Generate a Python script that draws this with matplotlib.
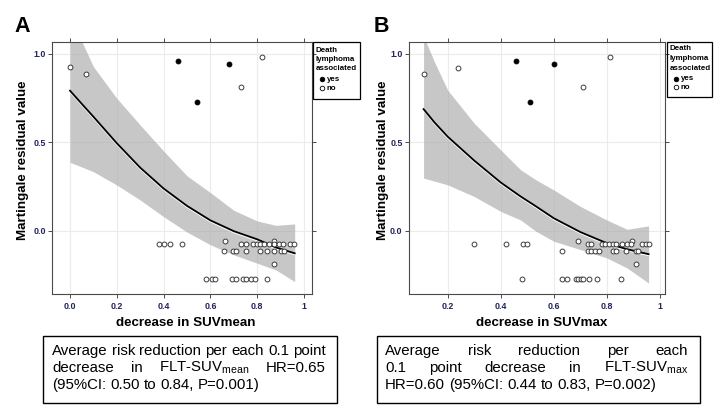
import matplotlib
matplotlib.use("Agg")
import matplotlib.pyplot as plt
import matplotlib.transforms as mtransforms
from matplotlib.patches import Rectangle
from matplotlib.lines import Line2D

plt.rcParams['font.family'] = ['Liberation Sans', 'DejaVu Sans']
plt.rcParams['mathtext.fontset'] = 'custom'
plt.rcParams['mathtext.rm'] = 'Liberation Sans'
plt.rcParams['mathtext.it'] = 'Liberation Sans:italic'
plt.rcParams['mathtext.bf'] = 'Liberation Sans:bold'

# ---------------- data : panel A (decrease in SUVmean) ----------------
a_yes_x = [0.460, 0.541, 0.681]
a_yes_y = [0.960, 0.726, 0.943]
a_no_x = [0.000, 0.067, 0.732, 0.822,
          0.661, 0.872,
          0.381, 0.401, 0.429, 0.479, 0.732, 0.752, 0.782, 0.797, 0.810, 0.828, 0.851, 0.871, 0.891, 0.910, 0.939, 0.956,
          0.660, 0.697, 0.708, 0.751, 0.811, 0.840, 0.870, 0.903, 0.916,
          0.871,
          0.580, 0.608, 0.619, 0.694, 0.708, 0.741, 0.754, 0.772, 0.791, 0.840]
a_no_y = [0.923, 0.883, 0.811, 0.981,
          -0.057, -0.057,
          -0.077, -0.077, -0.077, -0.077, -0.077, -0.077, -0.077, -0.077, -0.077, -0.077, -0.077, -0.077, -0.077, -0.077, -0.077, -0.077,
          -0.117, -0.117, -0.117, -0.117, -0.117, -0.117, -0.117, -0.117, -0.117,
          -0.187,
          -0.274, -0.274, -0.274, -0.274, -0.274, -0.274, -0.274, -0.274, -0.274, -0.274]
a_curve_x = [0.00, 0.05, 0.10, 0.20, 0.30, 0.40, 0.50, 0.60, 0.70, 0.80, 0.88, 0.96]
a_fit = [0.791, 0.717, 0.644, 0.494, 0.356, 0.238, 0.140, 0.058, -0.003, -0.049, -0.095, -0.128]
a_upper = [1.22, 1.07, 0.927, 0.748, 0.597, 0.450, 0.310, 0.215, 0.115, 0.055, 0.030, 0.038]
a_lower = [0.386, 0.360, 0.333, 0.258, 0.173, 0.079, -0.008, -0.080, -0.137, -0.184, -0.222, -0.288]
a_ticks = [0.0, 0.2, 0.4, 0.6, 0.8, 1.0]
a_ticklabels = ["0.0", "0.2", "0.4", "0.6", "0.8", "1"]

# ---------------- data : panel B (decrease in SUVmax) ----------------
b_yes_x = [0.458, 0.510, 0.600]
b_yes_y = [0.959, 0.727, 0.943]
b_no_x = [0.109, 0.238, 0.711, 0.811,
          0.690, 0.893,
          0.299, 0.419, 0.485, 0.498, 0.729, 0.740, 0.780, 0.794, 0.809, 0.823, 0.836, 0.858, 0.875, 0.889, 0.933, 0.946, 0.960,
          0.629, 0.728, 0.741, 0.754, 0.769, 0.822, 0.835, 0.871, 0.911, 0.918,
          0.910,
          0.480, 0.629, 0.650, 0.683, 0.692, 0.702, 0.711, 0.731, 0.762, 0.852]
b_no_y = [0.883, 0.922, 0.811, 0.980,
          -0.057, -0.057,
          -0.077, -0.077, -0.077, -0.077, -0.077, -0.077, -0.077, -0.077, -0.077, -0.077, -0.077, -0.077, -0.077, -0.077, -0.077, -0.077, -0.077,
          -0.117, -0.117, -0.117, -0.117, -0.117, -0.117, -0.117, -0.117, -0.117, -0.117,
          -0.187,
          -0.274, -0.274, -0.274, -0.274, -0.274, -0.274, -0.274, -0.274, -0.274, -0.274]
b_curve_x = [0.109, 0.15, 0.20, 0.30, 0.40, 0.475, 0.533, 0.60, 0.70, 0.80, 0.876, 0.957]
b_fit = [0.687, 0.612, 0.531, 0.396, 0.272, 0.193, 0.137, 0.070, -0.008, -0.071, -0.105, -0.133]
b_upper = [1.10, 0.954, 0.794, 0.607, 0.456, 0.344, 0.287, 0.230, 0.137, 0.060, 0.008, 0.027]
b_lower = [0.297, 0.280, 0.259, 0.193, 0.109, 0.060, -0.004, -0.060, -0.107, -0.154, -0.211, -0.296]
b_ticks = [0.2, 0.4, 0.6, 0.8, 1.0]
b_ticklabels = ["0.2", "0.4", "0.6", "0.8", "1"]

y_ticks = [0.0, 0.5, 1.0]
y_ticklabels = ["0.0", "0.5", "1.0"]

W, H = 714, 411
fig = plt.figure(figsize=(W / 100, H / 100), dpi=100)
fig.patch.set_facecolor('white')
# pixel (top-left origin) transform
T = mtransforms.Affine2D().scale(1 / W, -1 / H).translate(0, 1) + fig.transFigure

TICKCOL = '#23235e'


def make_panel(rect_px, xlim, ticks, ticklabels, curve_x, fit, upper, lower,
               no_x, no_y, yes_x, yes_y, xlabel, ylab_x, xlab_x):
    l, t, r, b = rect_px
    ax = fig.add_axes([l / W, 1 - b / H, (r - l) / W, (b - t) / H])
    ax.set_xlim(*xlim)
    ax.set_ylim(-0.358, 1.068)
    ax.set_xticks(ticks)
    ax.set_xticklabels(ticklabels)
    ax.set_yticks(y_ticks)
    ax.set_yticklabels(y_ticklabels)
    ax.grid(True, color='#ebebeb', lw=0.8)
    ax.set_axisbelow(True)
    for s in ax.spines.values():
        s.set_color('#4a4a4a')
        s.set_linewidth(0.8)
    ax.tick_params(direction='out', top=True, right=True, length=3.2, width=0.7,
                   color='#4a4a4a', labelsize=6.4, labelcolor=TICKCOL, pad=2.6)
    ax.tick_params(axis='y', pad=1.2)
    for lb in ax.get_xticklabels() + ax.get_yticklabels():
        lb.set_fontweight('bold')
    ax.fill_between(curve_x, lower, upper, color='#a6a6a6', alpha=0.62, lw=0, zorder=2)
    off = mtransforms.offset_copy(ax.transData, fig=fig, x=0, y=-1.3, units='dots')
    ax.plot(curve_x, fit, color='white', lw=1.0, transform=off, zorder=3)
    ax.plot(curve_x, fit, color='black', lw=1.3, zorder=4)
    ax.plot(no_x, no_y, 'o', ms=3.5, mfc='white', mec='#303030', mew=0.65, ls='none', zorder=5)
    ax.plot(yes_x, yes_y, 'o', ms=3.5, mfc='black', mec='black', mew=0.65, ls='none', zorder=5)
    ax.set_ylabel('Martingale residual value', fontsize=9.6, fontweight='bold')
    ax.yaxis.set_label_coords(ylab_x, 0.53)
    ax.set_xlabel(xlabel, fontsize=9.6, fontweight='bold')
    ax.xaxis.set_label_coords(xlab_x, -0.115)
    ax.xaxis.label.set_va('center')
    return ax


axA = make_panel((52, 41.7, 312, 294), (-0.077, 1.034), a_ticks, a_ticklabels,
                 a_curve_x, a_fit, a_upper, a_lower, a_no_x, a_no_y, a_yes_x, a_yes_y,
                 'decrease in SUVmean', -0.088, 0.515)
axB = make_panel((408.7, 41.7, 665.3, 294), (0.053, 1.020), b_ticks, b_ticklabels,
                 b_curve_x, b_fit, b_upper, b_lower, b_no_x, b_no_y, b_yes_x, b_yes_y,
                 'decrease in SUVmax', -0.076, 0.52)

# panel letters
fig.text(14, 32, 'A', transform=T, fontsize=15.5, fontweight='bold', va='baseline', ha='left')
fig.text(374, 32, 'B', transform=T, fontsize=15.5, fontweight='bold', va='baseline', ha='left')


# legends
def legend(x0, x1, y0, y1, tx, mx, lx, ys):
    fig.add_artist(Rectangle((x0, y0), x1 - x0, y1 - y0, transform=T, fill=False,
                             lw=0.9, ec='black'))
    for txt, yy in zip(['Death', 'lymphoma', 'associated'], ys[:3]):
        fig.text(tx, yy, txt, transform=T, fontsize=5.7, fontweight='bold', va='center', ha='left')
    for fc, txt, yy in zip(['black', 'white'], ['yes', 'no'], ys[3:]):
        fig.add_artist(Line2D([mx], [yy], transform=T, marker='o', ms=3.3, mfc=fc,
                              mec='black', mew=0.6, ls='none'))
        fig.text(lx, yy, txt, transform=T, fontsize=5.7, fontweight='bold', va='center', ha='left')


legend(312.7, 359.5, 41.7, 99, 315.5, 322, 326.5, [50, 59.5, 69, 79.3, 88.3])
legend(667, 712, 41.7, 97, 670, 675.5, 680.5, [49, 58.8, 68.3, 79, 87.5])

# annotation boxes with justified text
renderer = fig.canvas.get_renderer()
FS = 10.8


def justified(words, left, right, y, justify=True):
    texts = [fig.text(0, y, w, transform=T, fontsize=FS, va='center', ha='left') for w in words]
    widths = [t.get_window_extent(renderer).width for t in texts]
    if justify and len(words) > 1:
        gap = (right - left - sum(widths)) / (len(words) - 1)
    else:
        sp = fig.text(0, 0, 'a a', fontsize=FS)
        sp2 = fig.text(0, 0, 'aa', fontsize=FS)
        gap = sp.get_window_extent(renderer).width - sp2.get_window_extent(renderer).width
        sp.remove()
        sp2.remove()
    x = left
    for t, w in zip(texts, widths):
        t.set_x(x)
        x += w + gap


fig.add_artist(Rectangle((42.7, 336), 336.8 - 42.7, 403 - 336, transform=T, fill=False, lw=1.0, ec='black'))
justified(['Average', 'risk', 'reduction', 'per', 'each', '0.1', 'point'], 52, 326, 351)
justified(['decrease', 'in', r'FLT-SUV$_{\mathrm{mean}}$', 'HR=0.65'], 52, 326, 368)
justified(['(95%CI:', '0.50', 'to', '0.84,', 'P=0.001)'], 52, 326, 385, justify=False)

fig.add_artist(Rectangle((377, 336), 700 - 377, 403 - 336, transform=T, fill=False, lw=1.0, ec='black'))
justified(['Average', 'risk', 'reduction', 'per', 'each'], 385, 688, 351)
justified(['0.1', 'point', 'decrease', 'in', r'FLT-SUV$_{\mathrm{max}}$'], 385, 688, 368)
justified(['HR=0.60', '(95%CI:', '0.44', 'to', '0.83,', 'P=0.002)'], 385, 688, 385, justify=False)

fig.savefig('out.png', dpi=100)
